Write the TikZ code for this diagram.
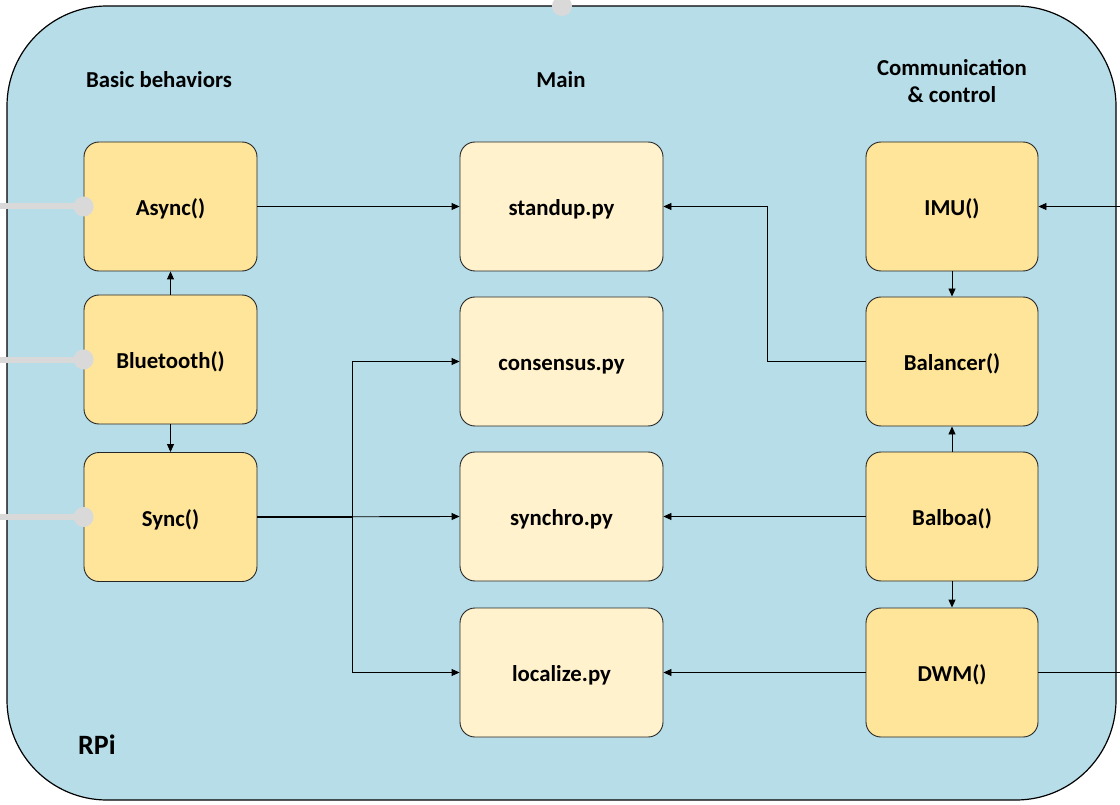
\documentclass[tikz,border=0pt]{standalone}
\usepackage{fontspec}
\setmainfont{Carlito}
\usetikzlibrary{arrows.meta}
\definecolor{bgblue}{HTML}{B7DDE8}
\definecolor{gold}{HTML}{FFE599}
\definecolor{cream}{HTML}{FFF2CC}
\definecolor{stubgray}{HTML}{D9D9D9}
\begin{document}
\begin{tikzpicture}[x=1pt,y=-1pt,
  every node/.style={font=\fontsize{22.8}{27}\selectfont\bfseries},
  box/.style={draw=black!85, line width=0.9pt, rounded corners=15pt, minimum height=129pt, inner sep=0pt, text height=18pt, text depth=0pt},
  behbox/.style={box, fill=gold, minimum width=173pt},
  mainbox/.style={box, fill=cream, minimum width=203pt},
  combox/.style={box, fill=gold, minimum width=172pt},
  conn/.style={draw=black, line width=0.9pt},
  arr/.style={conn, -{Triangle[length=8pt,width=7pt]}},
  stub/.style={draw=stubgray, line width=6pt},
  dot/.style={fill=stubgray, draw=none}
]
\useasboundingbox (0,0) rectangle (1120,805);
% outer RPi frame
\draw[fill=bgblue, draw=black, line width=1.2pt, rounded corners=100pt] (7,6) rectangle (1116,800);

% headings
\node (hbeh) at (159,80) {Basic behaviors};
\node (hmain) at (561,80) {Main};
\node[align=center] (hcom) at (952,81) {Communication\\\& control};
\node[font=\fontsize{28}{32}\selectfont\bfseries] (rpi) at (97,745) {RPi};

% left column
\node[behbox] (async) at (170.5,206.5) {Async()};
\node[behbox] (bt) at (170.5,359.5) {Bluetooth()};
\node[behbox] (sync) at (170.5,517) {Sync()};

% main column
\node[mainbox] (standup) at (561.5,206.5) {standup.py};
\node[mainbox] (consensus) at (561.5,361.5) {consensus.py};
\node[mainbox] (synchro) at (561.5,516.5) {synchro.py};
\node[mainbox] (localize) at (561.5,672.5) {localize.py};

% right column
\node[combox] (imu) at (952,206.5) {IMU()};
\node[combox] (balancer) at (952,361.5) {Balancer()};
\node[combox] (balboa) at (952,516.5) {Balboa()};
\node[combox] (dwm) at (952,672.5) {DWM()};

% external coordinates
\coordinate (inA) at (0,206.5);
\coordinate (inB) at (0,359.5);
\coordinate (inC) at (0,517);
\coordinate (extIMU) at (1120,206.5);
\coordinate (extDWM) at (1120,672.5);
\coordinate (top) at (562,6);

% connectors
\draw[arr] (async.east) -- (standup.west);
\draw[arr] (bt.north) -- (async.south);
\draw[arr] (bt.south) -- (sync.north);
\draw[arr] (sync.east) -- (synchro.west);
\draw[conn, line width=1.6pt] (sync.east) -- ++(95,0);
\draw[arr] (sync.east) ++(95,0) |- (consensus.west);
\draw[arr] (sync.east) ++(95,0) |- (localize.west);
\draw[arr] (imu.south) -- (balancer.north);
\draw[arr] (balancer.west) -- ++(-98,0) |- (standup.east);
\draw[arr] (balboa.north) -- (balancer.south);
\draw[arr] (balboa.west) -- (synchro.east);
\draw[arr] (balboa.south) -- (dwm.north);
\draw[arr] (dwm.west) -- (localize.east);
\draw[arr] (extIMU) -- (imu.east);
\draw[conn] (dwm.east) -- (extDWM);

% gray stubs
\draw[stub] (inA) -- (async.west);
\draw[stub] (inB) -- (bt.west);
\draw[stub] (inC) -- (sync.west);
\fill[dot] (async.west) circle (10pt);
\fill[dot] (bt.west) circle (10pt);
\fill[dot] (sync.west) circle (10pt);
\fill[dot] (top) circle (10pt);
\end{tikzpicture}
\end{document}
